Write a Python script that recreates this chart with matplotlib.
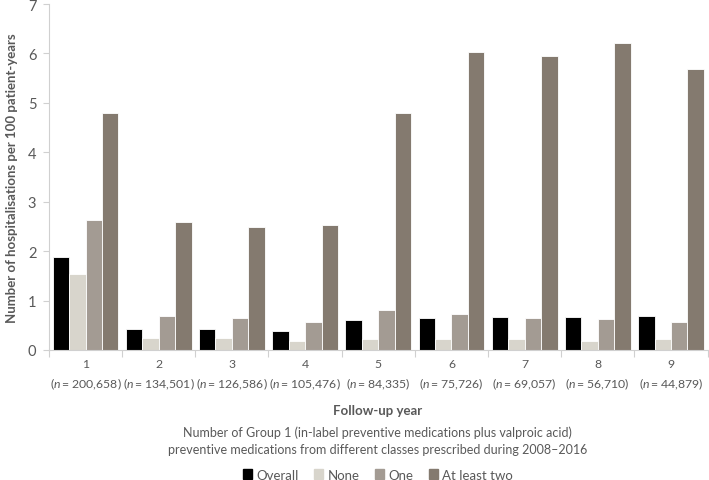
import numpy as np
import matplotlib
matplotlib.use("Agg")
import matplotlib.pyplot as plt
from matplotlib.patches import Patch

plt.rcParams['font.family'] = ['Lato', 'DejaVu Sans']
plt.rcParams['mathtext.fontset'] = 'custom'
plt.rcParams['mathtext.rm'] = 'Lato'
plt.rcParams['mathtext.it'] = 'Lato:italic'

years = ['1', '2', '3', '4', '5', '6', '7', '8', '9']
n_pat = ['200,658', '134,501', '126,586', '105,476', '84,335',
         '75,726', '69,057', '56,710', '44,879']
series = ['Overall', 'None', 'One', 'At least two']
overall = [1.89, 0.43, 0.43, 0.39, 0.61, 0.65, 0.67, 0.67, 0.69]
none = [1.54, 0.24, 0.24, 0.19, 0.23, 0.22, 0.22, 0.19, 0.22]
one = [2.63, 0.69, 0.65, 0.57, 0.80, 0.72, 0.65, 0.63, 0.57]
two_plus = [4.80, 2.58, 2.48, 2.52, 4.80, 6.02, 5.95, 6.21, 5.68]

colors = ['#000000', '#d8d5cc', '#a39b93', '#847a6f']
txt = '#595959'
axcol = '#d0d0d0'

fig = plt.figure(figsize=(7.09, 4.81), dpi=100)
ax = fig.add_axes([0.069, 0.2703, 0.929, 0.7193])

x = np.arange(len(years))
w = 0.225
for i, vals in enumerate([overall, none, one, two_plus]):
    ax.bar(x + (i - 1.5) * w, vals, w, color=colors[i],
           edgecolor='white', linewidth=0.6, label=series[i])

ax.set_xlim(-0.5, len(years) - 0.5)
ax.set_ylim(0, 7)
ax.set_yticks(range(8))
ax.tick_params(axis='y', colors=axcol, length=4, width=0.8, labelcolor=txt,
               labelsize=10.5, pad=5)
ax.set_xticks(x)
ax.set_xticklabels(['%s\n($\\it{n}\\,$= %s)' % (y, n) for y, n in zip(years, n_pat)],
                   color=txt, fontsize=8.8, linespacing=1.5)
ax.tick_params(axis='x', length=0, pad=6)
# category separators
ax.set_xticks(np.arange(-0.5, len(years)), minor=True)
ax.tick_params(axis='x', which='minor', length=5, colors=axcol, width=0.8)

for s in ['top', 'right']:
    ax.spines[s].set_visible(False)
for s in ['left', 'bottom']:
    ax.spines[s].set_color(axcol)
    ax.spines[s].set_linewidth(0.8)

ax.set_ylabel('Number of hospitalisations per 100 patient-years',
              fontsize=9.5, fontweight='bold', color=txt, labelpad=7)

fig.text(0.533, 0.145, 'Follow-up year', ha='center', va='center',
         fontsize=9.5, fontweight='bold', color=txt)
fig.text(0.533, 0.083, 'Number of Group 1 (in-label preventive medications plus valproic acid)\n'
         'preventive medications from different classes prescribed during 2008\u20132016',
         ha='center', va='center', fontsize=9, color=txt, linespacing=1.45)

handles = [Patch(color=c, label=s) for c, s in zip(colors, series)]
fig.legend(handles=handles, loc='center', bbox_to_anchor=(0.533, 0.011),
           ncol=4, frameon=False, fontsize=9.5, handlelength=0.7,
           handleheight=0.7, handletextpad=0.3, columnspacing=1.2,
           labelcolor=txt)

fig.savefig('out.png', dpi=100)
